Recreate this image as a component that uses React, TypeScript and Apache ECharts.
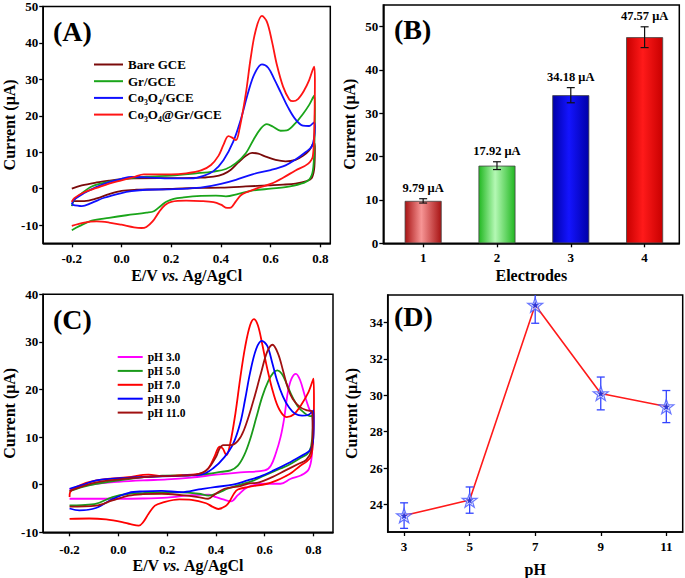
import React, { useEffect, useRef } from 'react';
import * as echarts from 'echarts';

const FONT = '"Liberation Serif", "Times New Roman", serif';

// ---------- Panel A : CVs of the electrodes ----------
const potentialTicksA = [-0.2, 0, 0.2, 0.4, 0.6, 0.8];
const currentTicksA = [-10, 0, 10, 20, 30, 40, 50];
const namesA = ['Bare GCE', 'Gr/GCE', 'Co₃O₄/GCE', 'Co₃O₄@Gr/GCE'];

const bareGCE: number[][] = [
  [-0.2, 0.0], [-0.16, 0.9], [-0.1, 1.7], [-0.05, 2.2], [0.0, 2.6], [0.05, 2.8], [0.15, 2.9], [0.25, 2.9],
  [0.32, 3.0], [0.37, 3.3], [0.41, 4.0], [0.44, 5.2], [0.47, 7.2], [0.5, 9.0], [0.525, 9.8], [0.55, 9.6],
  [0.58, 8.8], [0.62, 7.9], [0.66, 7.5], [0.7, 7.9], [0.73, 9.0], [0.755, 10.5], [0.775, 12.6],
  [0.778, 11], [0.776, 6], [0.766, 3], [0.745, 2.1], [0.7, 1.4], [0.65, 1.1], [0.59, 0.9], [0.5, 0.6],
  [0.4, 0.3], [0.32, 0.2], [0.22, 0.0], [0.15, -0.2], [0.06, -0.3], [0.0, -0.6], [-0.05, -1.5],
  [-0.1, -2.7], [-0.15, -3.4], [-0.2, -3.4],
];
const grGCE: number[][] = [
  [-0.2, -4.8], [-0.19, -3.0], [-0.17, -1.8], [-0.12, 0.6], [-0.05, 1.9], [0.03, 2.8], [0.1, 3.3], [0.2, 3.6],
  [0.3, 4.2], [0.37, 4.7], [0.42, 5.4], [0.46, 7.0], [0.5, 9.7], [0.53, 13.3], [0.56, 16.5], [0.585, 17.7],
  [0.61, 17.0], [0.64, 15.9], [0.665, 16.0], [0.7, 18.0], [0.73, 20.5], [0.755, 23.0], [0.775, 25.5],
  [0.778, 22], [0.776, 12], [0.77, 5], [0.755, 2.5], [0.72, 1.3], [0.66, 0.4], [0.6, 0.0], [0.52, -0.6],
  [0.47, -1.4], [0.42, -2.1], [0.38, -1.9], [0.32, -2.0], [0.25, -2.4], [0.21, -2.8], [0.18, -3.6],
  [0.16, -4.6], [0.13, -6.2], [0.1, -6.6], [0.02, -7.3], [-0.05, -8.0], [-0.12, -8.8], [-0.17, -10.3],
  [-0.2, -11.4],
];
const co3o4GCE: number[][] = [
  [-0.2, -4.3], [-0.19, -3.0], [-0.15, -1.2], [-0.1, 0.5], [-0.05, 1.8], [0.0, 2.7], [0.04, 3.2], [0.1, 3.1],
  [0.2, 2.8], [0.28, 2.8], [0.33, 3.5], [0.37, 4.8], [0.41, 7.8], [0.45, 13], [0.48, 19], [0.51, 26.5],
  [0.535, 31.5], [0.565, 34.1], [0.59, 33.2], [0.615, 30], [0.64, 26.5], [0.67, 22.3], [0.7, 19.0],
  [0.73, 17.3], [0.755, 17.2], [0.775, 18.2],
  [0.778, 17], [0.775, 14], [0.765, 11.5], [0.74, 10], [0.7, 8], [0.66, 6.4], [0.6, 5.1], [0.53, 4.0],
  [0.46, 2.4], [0.4, 1.3], [0.33, 0.4], [0.26, 0.0], [0.18, -0.2], [0.1, -0.3], [0.04, -0.7], [0.0, -1.2],
  [-0.07, -2.5], [-0.12, -3.9], [-0.16, -4.8], [-0.2, -4.4],
];
const co3o4GrGCE: number[][] = [
  [-0.2, -3.6], [-0.19, -2.6], [-0.15, -1.0], [-0.1, 0.2], [-0.05, 1.4], [0.0, 2.3], [0.05, 3.2], [0.09, 3.9],
  [0.15, 3.9], [0.2, 3.9], [0.26, 4.2], [0.32, 5.0], [0.36, 6.5], [0.39, 9.0], [0.41, 12.0], [0.43, 14.4],
  [0.445, 14.0], [0.46, 13.3], [0.475, 16.5], [0.5, 26], [0.52, 36], [0.54, 43.5], [0.565, 47.4],
  [0.585, 45.8], [0.605, 40.5], [0.625, 34], [0.65, 28], [0.675, 24.5], [0.69, 24.0], [0.71, 24.6],
  [0.735, 27], [0.755, 29.8], [0.775, 33.5],
  [0.778, 30], [0.776, 18], [0.77, 9], [0.75, 6.8], [0.7, 5.0], [0.65, 3.0], [0.6, 1.3], [0.55, 0.2],
  [0.51, -0.8], [0.48, -1.8], [0.46, -3.5], [0.44, -5.2], [0.425, -5.3], [0.4, -4.4], [0.37, -3.7],
  [0.32, -3.4], [0.26, -3.3], [0.2, -3.6], [0.175, -4.5], [0.15, -6.5], [0.125, -9.0], [0.1, -10.5],
  [0.08, -10.8], [0.05, -10.6], [0.0, -9.9], [-0.05, -9.3], [-0.1, -9.0], [-0.15, -9.3], [-0.2, -10.2],
];

// ---------- Panel B : peak currents ----------
const electrodes = ['1', '2', '3', '4'];
const electrodeIndex = [1, 2, 3, 4];
const peakCurrents = [9.79, 17.92, 34.18, 47.57];
const peakErrors = [0.5, 0.9, 1.75, 2.4];
const currentTicksB = [0, 10, 20, 30, 40, 50];

// ---------- Panel C : CVs at different pH ----------
const potentialTicksC = [-0.2, 0, 0.2, 0.4, 0.6, 0.8];
const currentTicksC = [-10, 0, 10, 20, 30, 40];
const namesC = ['pH 3.0', 'pH 5.0', 'pH 7.0', 'pH 9.0', 'pH 11.0'];

const ph3: number[][] = [
  [-0.2, -1.0], [-0.15, -0.3], [-0.09, 0.2], [0.0, 0.6], [0.1, 0.9], [0.2, 1.1], [0.3, 1.5], [0.4, 2.1],
  [0.5, 2.6], [0.6, 3.0], [0.625, 4.0], [0.645, 6.5], [0.665, 10], [0.68, 14], [0.695, 19.5], [0.71, 22.3],
  [0.728, 23.3], [0.745, 22.0], [0.765, 18.6], [0.785, 15.6], [0.795, 14.8],
  [0.797, 12], [0.793, 6], [0.78, 3.2], [0.75, 2.0], [0.705, 1.2], [0.665, 0.2], [0.6, 0.2], [0.53, -0.5],
  [0.49, -2.2], [0.462, -3.5], [0.43, -3.1], [0.4, -2.6], [0.37, -2.1], [0.3, -2.2], [0.2, -2.7],
  [0.1, -2.9], [0.0, -2.95], [-0.1, -2.95], [-0.2, -2.95],
];
const ph5: number[][] = [
  [-0.2, -1.4], [-0.15, -0.5], [-0.09, 0.2], [0.04, 1.2], [0.18, 1.9], [0.3, 2.0], [0.37, 2.3], [0.42, 2.7],
  [0.46, 3.0], [0.49, 4.0], [0.516, 6.2], [0.54, 9.5], [0.565, 14], [0.59, 18.5], [0.615, 21.8],
  [0.635, 23.5], [0.652, 24.0], [0.67, 23.3], [0.69, 21.2], [0.71, 18.8], [0.735, 16.5], [0.76, 15.2],
  [0.785, 14.4], [0.795, 14.5],
  [0.797, 12], [0.79, 8], [0.775, 6.5], [0.746, 5.6], [0.7, 4.2], [0.665, 3.4], [0.6, 1.95], [0.55, 0.8],
  [0.5, 0.0], [0.45, -0.8], [0.41, -1.7], [0.37, -2.3], [0.33, -1.9], [0.25, -1.6], [0.178, -1.6],
  [0.1, -1.75], [0.043, -1.9], [-0.024, -2.6], [-0.09, -4.0], [-0.15, -4.3], [-0.2, -4.35],
];
const ph7: number[][] = [
  [-0.2, -2.6], [-0.198, -1.6], [-0.16, -0.2], [-0.09, 0.9], [0.04, 1.6], [0.124, 2.1], [0.178, 1.8],
  [0.26, 2.0], [0.34, 2.4], [0.37, 3.5], [0.395, 6.0], [0.415, 8.0], [0.428, 7.6], [0.443, 6.2],
  [0.458, 8.5], [0.48, 15], [0.5, 22.5], [0.52, 29], [0.54, 33.5], [0.556, 34.8], [0.572, 33.5],
  [0.59, 29.5], [0.61, 24.5], [0.635, 19.3], [0.66, 15.8], [0.69, 14.2], [0.72, 14.8], [0.75, 16.8],
  [0.78, 19.5], [0.8, 22.3],
  [0.802, 18], [0.799, 10], [0.79, 6], [0.77, 4.8], [0.746, 4.0], [0.71, 2.5], [0.69, 1.9], [0.65, 0.9],
  [0.61, 0.2], [0.53, -0.5], [0.49, -1.0], [0.475, -1.8], [0.455, -3.6], [0.44, -4.5], [0.41, -5.1],
  [0.385, -4.6], [0.36, -3.9], [0.3, -3.2], [0.25, -3.1], [0.178, -3.8], [0.15, -4.4], [0.124, -6.1],
  [0.1, -8.0], [0.084, -8.6], [0.05, -8.3], [0.016, -7.85], [-0.05, -7.3], [-0.12, -7.1], [-0.2, -7.2],
];
const ph9: number[][] = [
  [-0.2, -0.85], [-0.15, -0.1], [-0.09, 0.9], [0.04, 1.45], [0.18, 1.75], [0.26, 1.9], [0.34, 2.1],
  [0.39, 3.5], [0.435, 5.8], [0.47, 8.5], [0.5, 13], [0.52, 18], [0.54, 23.5], [0.565, 28.5],
  [0.588, 30.2], [0.61, 29.2], [0.63, 25.8], [0.65, 22], [0.675, 18.5], [0.7, 16.2], [0.725, 14.9],
  [0.753, 14.5], [0.78, 14.7], [0.8, 15.6],
  [0.801, 13], [0.798, 9], [0.785, 7.2], [0.766, 6.5], [0.72, 5.2], [0.7, 4.6], [0.637, 3.0], [0.58, 1.7],
  [0.53, 0.9], [0.47, 0.0], [0.394, -0.5], [0.33, -1.0], [0.259, -1.55], [0.178, -1.3], [0.1, -1.4],
  [0.043, -1.7], [-0.024, -3.0], [-0.092, -4.9], [-0.16, -5.4], [-0.2, -5.0],
];
const ph11: number[][] = [
  [-0.2, -1.3], [-0.15, -0.4], [-0.09, 0.5], [0.04, 1.3], [0.18, 1.8], [0.3, 2.0], [0.36, 3.0], [0.4, 5.8],
  [0.415, 7.6], [0.43, 8.3], [0.46, 8.3], [0.49, 9.2], [0.515, 11.5], [0.55, 17], [0.584, 23.3],
  [0.61, 27.9], [0.632, 29.4], [0.655, 27.5], [0.675, 24], [0.695, 20.3], [0.715, 18.0], [0.745, 16.3],
  [0.775, 15.6], [0.795, 15.4],
  [0.797, 12], [0.79, 7], [0.77, 5.2], [0.739, 4.4], [0.685, 3.0], [0.631, 1.6], [0.577, 0.5], [0.53, 0.2],
  [0.5, -0.3], [0.435, -0.85], [0.394, -2.1], [0.368, -2.95], [0.327, -2.6], [0.259, -2.2], [0.178, -1.9],
  [0.1, -2.0], [0.043, -2.3], [-0.024, -3.3], [-0.092, -4.4], [-0.2, -4.6],
];

// ---------- Panel D : current vs pH ----------
const pHValues = [3, 5, 7, 9, 11];
const pHCurrents = [23.4, 24.25, 34.95, 30.1, 29.38];
const pHErrors = [0.7, 0.72, 1.0, 0.9, 0.88];
const pHTicks = [3, 5, 7, 9, 11];
const currentTicksD = [24, 26, 28, 30, 32, 34];

const colorsA = ['#7a0a0a', '#1aa51a', '#1010ff', '#ff1414'];
const colorsC = ['#ff00ff', '#1a9a1a', '#ff0000', '#0000ff', '#a01010'];
const barEdge = ['#a81414', '#22b822', '#0000a8', '#c80000'];
const barMid = ['#f79595', '#b4f8b4', '#1414ff', '#ff1a1a'];

const STAR = 'path://M0,-10L2.35,-3.24L9.51,-3.09L3.8,1.24L5.88,8.09L0,4L-5.88,8.09L-3.8,1.24L-9.51,-3.09L-2.35,-3.24Z';

const tickFont = { fontFamily: FONT, fontWeight: 'bold' as const, fontSize: 13, color: '#000' };
const nameFont = { fontFamily: FONT, fontWeight: 'bold' as const, fontSize: 16, color: '#000' };

function valueAxis(gridIndex: number, min: number, max: number, ticks: number[], opts: any = {}) {
  return {
    type: 'value',
    gridIndex,
    min,
    max,
    axisLine: { show: true, onZero: false, lineStyle: { color: '#000', width: 1.5 } },
    axisTick: { show: true, inside: false, length: 4, customValues: ticks, lineStyle: { color: '#000', width: 1.3 } },
    axisLabel: { ...tickFont, customValues: ticks, margin: opts.margin ?? 6, formatter: opts.formatter },
    splitLine: { show: false },
    nameLocation: 'middle',
    name: opts.name,
    nameGap: opts.nameGap,
    nameTextStyle: opts.nameTextStyle ?? nameFont,
  };
}

const evName = '{b|E/V }{i|vs.}{b| Ag/AgCl}';
const evStyle = {
  ...nameFont,
  rich: {
    b: { fontFamily: FONT, fontWeight: 'bold', fontSize: 16, color: '#000' },
    i: { fontFamily: FONT, fontWeight: 'bold', fontStyle: 'italic', fontSize: 16, color: '#000' },
  },
};

function errorBarRender(cap: number, color: string, lw: number, withLabel: boolean) {
  return (params: any, api: any) => {
    const x = api.value(0);
    const y = api.value(1);
    const e = api.value(2);
    const hi = api.coord([x, y + e]);
    const lo = api.coord([x, y - e]);
    const st = { stroke: color, lineWidth: lw };
    const children: any[] = [
      { type: 'line', shape: { x1: hi[0], y1: hi[1], x2: lo[0], y2: lo[1] }, style: st },
      { type: 'line', shape: { x1: hi[0] - cap, y1: hi[1], x2: hi[0] + cap, y2: hi[1] }, style: st },
      { type: 'line', shape: { x1: lo[0] - cap, y1: lo[1], x2: lo[0] + cap, y2: lo[1] }, style: st },
    ];
    if (withLabel) {
      children.push({
        type: 'text',
        x: hi[0],
        y: hi[1] - 4,
        style: {
          text: y.toFixed(2) + ' μA',
          textAlign: 'center',
          textVerticalAlign: 'bottom',
          font: `bold 12.5px ${FONT}`,
          fill: '#000',
        },
      });
    }
    return { type: 'group', children };
  };
}

export default function App() {
  const ref = useRef<HTMLDivElement>(null);
  useEffect(() => {
    if (!ref.current) return;
    const chart = echarts.init(ref.current, null, { renderer: 'svg' });
    const fmt1 = (v: number) => v.toFixed(1);
    const seriesA = [bareGCE, grGCE, co3o4GCE, co3o4GrGCE].map((d, i) => ({
      type: 'line', name: namesA[i], xAxisIndex: 0, yAxisIndex: 0, data: d, smooth: 0.35,
      symbol: 'none', lineStyle: { color: colorsA[i], width: 1.8 }, itemStyle: { color: colorsA[i] },
    }));
    const seriesC = [ph3, ph5, ph7, ph9, ph11].map((d, i) => ({
      type: 'line', name: namesC[i], xAxisIndex: 2, yAxisIndex: 2, data: d, smooth: 0.35,
      symbol: 'none', lineStyle: { color: colorsC[i], width: 1.8 }, itemStyle: { color: colorsC[i] },
    }));
    const barData = peakCurrents.map((v, i) => ({
      value: [electrodeIndex[i], v],
      itemStyle: {
        color: new echarts.graphic.LinearGradient(0, 0, 1, 0, [
          { offset: 0, color: barEdge[i] },
          { offset: 0.45, color: barMid[i] },
          { offset: 1, color: barEdge[i] },
        ]),
        borderColor: '#444',
        borderWidth: 0.8,
      },
    }));
    const gridBase = { show: true, borderColor: '#000', borderWidth: 1.5, backgroundColor: 'transparent', containLabel: false };
    const option: any = {
      animation: false,
      backgroundColor: '#fff',
      grid: [
        { ...gridBase, left: 39.3, top: 5, width: 291, height: 238.3 },
        { ...gridBase, left: 383.3, top: 5, width: 296, height: 238.3 },
        { ...gridBase, left: 40, top: 294.3, width: 293, height: 238 },
        { ...gridBase, left: 387.7, top: 295, width: 295, height: 237.3 },
      ],
      xAxis: [
        valueAxis(0, -0.315, 0.84, potentialTicksA, { formatter: fmt1, margin: 9, name: evName, nameGap: 24, nameTextStyle: evStyle }),
        valueAxis(1, 0.46, 4.47, electrodeIndex, { formatter: (v: number) => electrodes[electrodeIndex.indexOf(v)] ?? '', margin: 8, name: 'Electrodes', nameGap: 24 }),
        valueAxis(2, -0.308, 0.88, potentialTicksC, { formatter: fmt1, margin: 11, name: evName, nameGap: 21, nameTextStyle: evStyle }),
        valueAxis(3, 2.5, 11.5, pHTicks, { margin: 8, name: 'pH', nameGap: 29 }),
      ],
      yAxis: [
        valueAxis(0, -15, 50, currentTicksA, { margin: 5, name: 'Current (μA)', nameGap: 21 }),
        valueAxis(1, 0, 55, currentTicksB, { margin: 5, name: 'Current (μA)', nameGap: 26 }),
        valueAxis(2, -10, 40, currentTicksC, { margin: 5, name: 'Current (μA)', nameGap: 21 }),
        valueAxis(3, 22.5, 35.5, currentTicksD, { margin: 5, name: 'Current (μA)', nameGap: 28 }),
      ],
      legend: [
        {
          data: namesA, orient: 'vertical', left: 88, top: 53, itemWidth: 29, itemHeight: 13, itemGap: 3.7,
          selectedMode: false, itemStyle: { opacity: 0 },
          textStyle: { fontFamily: FONT, fontWeight: 'bold', fontSize: 13, color: '#000' },
        },
        {
          data: namesC, orient: 'vertical', left: 111.7, top: 346, itemWidth: 25, itemHeight: 11, itemGap: 1.9,
          selectedMode: false, itemStyle: { opacity: 0 },
          textStyle: { fontFamily: FONT, fontWeight: 'bold', fontSize: 11.5, color: '#000' },
        },
      ],
      graphic: [
        { type: 'text', x: 53, y: 31, style: { text: '(A)', font: `bold 28px ${FONT}`, fill: '#000', textVerticalAlign: 'middle' } },
        { type: 'text', x: 394, y: 29, style: { text: '(B)', font: `bold 28px ${FONT}`, fill: '#000', textVerticalAlign: 'middle' } },
        { type: 'text', x: 53, y: 319, style: { text: '(C)', font: `bold 28px ${FONT}`, fill: '#000', textVerticalAlign: 'middle' } },
        { type: 'text', x: 394, y: 316, style: { text: '(D)', font: `bold 28px ${FONT}`, fill: '#000', textVerticalAlign: 'middle' } },
      ],
      series: [
        ...seriesA,
        {
          type: 'bar', xAxisIndex: 1, yAxisIndex: 1, barWidth: 37, data: barData, z: 2,
        },
        {
          type: 'custom', xAxisIndex: 1, yAxisIndex: 1, z: 5,
          data: peakCurrents.map((v, i) => [electrodeIndex[i], v, peakErrors[i]]),
          renderItem: errorBarRender(4, '#111', 1.2, true),
        },
        ...seriesC,
        {
          type: 'line', xAxisIndex: 3, yAxisIndex: 3, symbol: 'none', z: 2,
          data: pHValues.map((p, i) => [p, pHCurrents[i]]),
          lineStyle: { color: '#ff1a1a', width: 1.6 },
        },
        {
          type: 'custom', xAxisIndex: 3, yAxisIndex: 3, z: 3, clip: true,
          data: pHValues.map((p, i) => [p, pHCurrents[i], pHErrors[i]]),
          renderItem: errorBarRender(4, '#3344ff', 1.3, false),
        },
        {
          type: 'scatter', xAxisIndex: 3, yAxisIndex: 3, z: 4, symbol: STAR, symbolKeepAspect: true, symbolSize: 15,
          data: pHValues.map((p, i) => [p, pHCurrents[i]]),
          itemStyle: { color: 'rgba(235,238,255,0.85)', borderColor: '#4455ff', borderWidth: 1.2 },
        },
        {
          type: 'scatter', xAxisIndex: 3, yAxisIndex: 3, z: 5, symbol: STAR, symbolKeepAspect: true, symbolSize: 8,
          data: pHValues.map((p, i) => [p, pHCurrents[i]]),
          itemStyle: { color: '#0a14d0' },
        },
      ],
    };
    chart.setOption(option);
    return () => chart.dispose();
  }, []);
  return <div ref={ref} style={{ position: 'fixed', left: 0, top: 0, width: 685, height: 578, background: '#fff' }} />;
}
